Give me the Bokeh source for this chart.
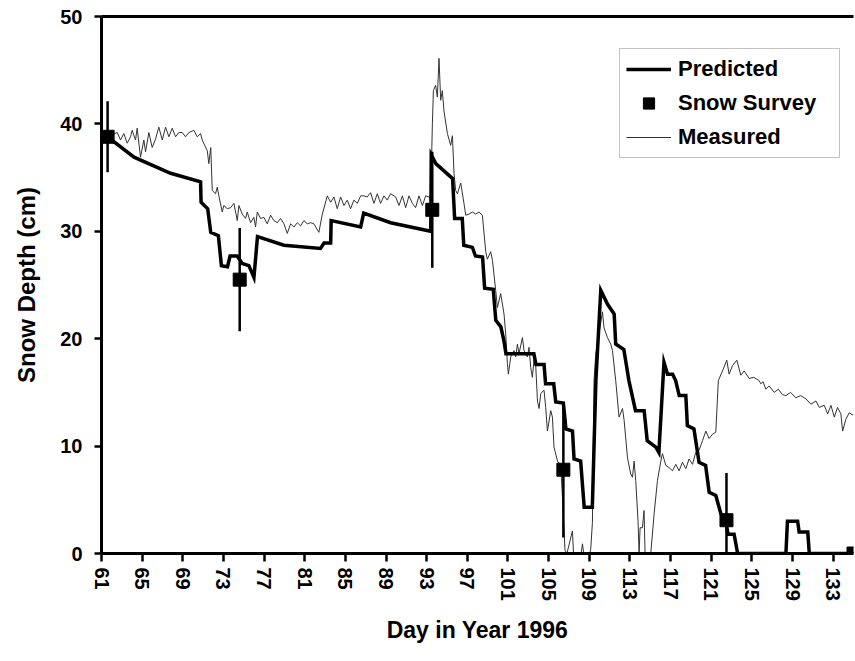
import math
from bokeh.plotting import figure
from bokeh.models import FixedTicker, LinearAxis, Range1d, Legend, LegendItem, ColumnDataSource
from bokeh.embed import file_html
from bokeh.resources import INLINE

# ---------------- data ----------------
x_ticks = list(range(61, 134, 4))
y_ticks = [0, 10, 20, 30, 40, 50]

pred_day = [61.6, 64.2, 67.8, 70.75, 70.8, 71.45, 71.75, 72.5, 72.8, 73.4, 73.65, 74.35,
            74.85, 75.5, 76.0, 76.35, 78.95, 82.55, 82.9, 83.55, 83.6, 86.5, 86.8, 89.45,
            93.4, 93.45, 93.9, 95.55, 95.75, 96.5, 96.65, 97.5, 97.8, 98.5, 98.7, 99.55,
            99.8, 100.3, 100.6, 100.8, 103.55, 103.75, 104.55, 104.7, 105.5, 105.7, 106.45,
            106.7, 107.35, 107.5, 108.15, 108.5, 109.3, 109.65, 110.13, 110.8, 111.45, 111.6,
            112.4, 112.9, 113.55, 114.4, 114.7, 115.55, 115.85, 116.35, 116.7, 117.2, 117.5,
            117.85, 118.5, 118.65, 119.3, 119.8, 120.45, 120.8, 121.45, 121.95, 122.45, 122.65,
            123.25, 123.6, 128.35, 128.5, 129.5, 129.65, 130.5, 130.65, 135.0]
pred_depth = [38.8, 36.9, 35.4, 34.6, 32.7, 32.1, 29.9, 29.6, 26.8, 26.7, 27.7, 27.7,
              27.0, 26.8, 25.7, 29.5, 28.7, 28.4, 28.9, 28.9, 31.0, 30.4, 31.7, 30.8,
              30.0, 37.1, 36.3, 34.9, 31.2, 31.2, 28.7, 28.5, 27.7, 27.6, 24.7, 24.6,
              21.7, 21.1, 19.8, 18.6, 18.6, 17.6, 17.6, 15.8, 15.8, 14.1, 14.0,
              11.6, 11.4, 8.8, 8.6, 4.3, 4.3, 16.1, 24.5, 23.2, 22.3, 19.5,
              19.0, 16.1, 13.3, 13.3, 10.5, 9.9, 9.4, 17.8, 16.7, 16.7, 16.1,
              14.7, 14.7, 11.9, 11.6, 8.5, 8.2, 5.7, 5.4, 3.7, 3.0, 1.8,
              1.8, 0.0, 0.0, 3.0, 3.0, 2.0, 2.0, 0.0, 0.0]

meas_day = [61.6, 62.55, 62.87, 63.2, 63.53, 63.86, 64.02, 64.35, 64.51, 64.84, 65.17, 65.33,
            65.66, 65.99, 66.32, 66.64, 66.98, 67.3, 67.63, 67.96, 68.29, 68.61, 68.95, 69.27,
            69.6, 70.09, 70.42, 70.75, 70.91, 71.41, 71.56, 71.75, 71.9, 72.22, 72.39, 72.55,
            72.88, 73.04, 73.38, 73.7, 74.03, 74.36, 74.52, 74.85, 75.18, 75.34, 75.67, 75.99,
            76.16, 76.33, 76.65, 76.98, 77.31, 77.64, 77.96, 78.3, 78.62, 78.95, 79.28, 79.61,
            79.93, 80.27, 80.59, 80.92, 81.25, 81.58, 81.9, 82.39, 82.73, 83.22, 83.55, 83.87,
            84.2, 84.53, 84.86, 85.19, 85.51, 85.84, 86.17, 86.5, 86.82, 87.15, 87.48, 87.81,
            88.14, 88.46, 88.79, 89.12, 89.45, 89.95, 90.27, 90.61, 90.93, 91.26, 91.59, 91.91,
            92.24, 92.58, 92.9, 93.22, 93.39, 93.56, 93.66, 93.88, 94.05, 94.21, 94.38, 94.54,
            94.7, 95.04, 95.36, 95.53, 95.69, 95.85, 96.02, 96.35, 96.67, 96.84, 97.16, 97.5,
            97.82, 98.15, 98.48, 98.81, 98.97, 99.3, 99.47, 99.79, 99.96, 100.28, 100.61, 100.78,
            100.94, 101.04, 101.27, 101.59, 101.76, 101.93, 102.08, 102.42, 102.58, 102.91, 103.07, 103.24,
            103.4, 103.56, 103.73, 103.9, 104.06, 104.23, 104.55, 104.71, 104.88, 105.21, 105.37, 105.53,
            105.87, 106.19, 106.45, 106.61, 106.8, 107.34, 107.45, 108.2, 108.33, 108.45, 109.05, 109.14,
            109.31, 109.47, 109.64, 110.3, 110.45, 110.79, 111.11, 111.28, 111.6, 111.93, 112.27, 112.43,
            112.76, 113.08, 113.25, 113.41, 113.57, 113.8, 113.9, 114.0, 114.23, 114.39, 114.49, 115.05,
            115.38, 115.71, 116.04, 116.2, 116.53, 116.85, 117.19, 117.51, 117.84, 118.17, 118.5, 118.82,
            119.16, 119.47, 119.8, 120.14, 120.47, 120.79, 121.12, 121.45, 121.7, 122.11, 122.53, 122.76,
            123.1, 123.52, 123.91, 124.24, 124.73, 125.19, 125.71, 125.88, 126.1, 126.37, 126.7, 127.19,
            127.6, 128.0, 128.35, 128.8, 129.33, 129.8, 130.32, 130.81, 131.31, 131.63, 132.12, 132.46,
            132.78, 133.11, 133.43, 133.76, 133.93, 134.25, 134.58, 134.91, 135.0]
meas_depth = [38.8, 39.2, 38.5, 39.1, 38.2, 38.8, 39.4, 38.5, 39.6, 36.9, 38.5, 37.4,
              39.2, 37.8, 38.6, 39.7, 38.5, 39.7, 38.8, 39.6, 38.8, 39.2, 39.2, 38.8,
              39.2, 39.4, 38.8, 39.1, 38.5, 37.5, 36.3, 37.8, 33.8, 33.5, 34.1, 33.3,
              31.8, 32.4, 32.1, 32.2, 32.6, 31.0, 32.4, 31.6, 31.2, 31.8, 30.8, 31.3,
              30.4, 31.8, 31.2, 31.3, 30.7, 31.5, 31.0, 30.8, 31.2, 30.7, 29.8, 30.7,
              30.4, 30.8, 30.5, 31.0, 30.7, 30.8, 30.7, 29.9, 31.6, 33.3, 32.7, 33.2,
              32.1, 33.2, 32.4, 32.9, 32.1, 32.9, 32.6, 33.3, 33.3, 33.2, 33.6, 32.6,
              33.5, 32.6, 33.3, 32.9, 33.5, 33.2, 32.4, 33.3, 32.2, 33.3, 32.6, 32.2,
              33.3, 32.4, 33.3, 33.2, 32.9, 40.0, 43.1, 43.6, 42.5, 46.1, 42.2, 43.1,
              41.2, 39.1, 38.0, 38.9, 35.4, 33.8, 33.5, 34.5, 32.6, 31.5, 31.6, 31.8,
              31.6, 31.8, 31.5, 28.1, 27.4, 28.1, 27.3, 24.5, 22.9, 24.2, 22.3, 20.4,
              17.7, 16.7, 18.3, 18.9, 18.3, 19.5, 18.6, 20.1, 18.9, 18.3, 19.2, 17.3,
              16.4, 18.0, 17.5, 14.2, 13.5, 14.9, 15.2, 13.6, 11.4, 13.3, 12.7, 9.9,
              8.6, 8.2, 3.7, 0.3, 0.0, 2.1, 0.0, 0.0, 0.9, 0.0, 0.0, 0.4,
              2.9, 16.1, 18.6, 22.5, 21.0, 20.1, 19.5, 18.9, 16.1, 12.7, 13.5, 12.4,
              8.9, 7.4, 7.1, 8.6, 6.8, 3.0, 0.0, 2.4, 2.4, 4.0, 0.0, 0.0,
              3.7, 6.8, 8.6, 9.3, 8.2, 8.0, 7.7, 8.3, 7.7, 8.5, 7.9, 8.8,
              8.3, 9.4, 9.6, 10.5, 11.4, 10.7, 11.1, 11.3, 16.1, 17.0, 18.0, 16.7,
              17.5, 18.0, 16.6, 17.0, 16.3, 16.4, 16.1, 15.8, 16.0, 15.3, 15.6, 15.0,
              15.3, 14.8, 14.7, 15.0, 14.5, 14.7, 14.4, 13.9, 14.2, 13.6, 13.8, 13.0,
              13.8, 12.7, 13.6, 13.0, 11.4, 12.5, 13.1, 12.9, 13.0]

survey_day = [61.6, 74.6, 93.55, 106.45, 122.5, 135.0]
survey_depth = [38.8, 25.5, 32.0, 7.8, 3.1, 0.0]
survey_err = [3.3, 4.8, 5.4, 6.3, 4.4, 0.0]

# ---------------- figure ----------------
FONT = "Liberation Sans"

p = figure(width=855, height=661, x_range=Range1d(61, 135), y_range=Range1d(0, 50),
           output_backend="svg", toolbar_location=None,
           min_border_left=101, min_border_right=2, min_border_top=16, min_border_bottom=108)
p.grid.visible = False
p.outline_line_color = None
p.background_fill_color = "white"
p.border_fill_color = "white"

# measured (thin)
r_meas = p.line(meas_day, meas_depth, line_color="#333333", line_width=1)
# predicted (thick)
r_pred = p.line(pred_day, pred_depth, line_color="black", line_width=3.5, line_join="miter")
# survey error bars
lo = [max(0.0, d - e) for d, e in zip(survey_depth, survey_err)]
hi = [d + e for d, e in zip(survey_depth, survey_err)]
src = ColumnDataSource(dict(x=survey_day, y=survey_depth, lo=lo, hi=hi))
p.segment(x0="x", y0="lo", x1="x", y1="hi", source=src, line_color="black", line_width=2.5)
r_surv = p.scatter(x="x", y="y", source=src, marker="square", size=13,
                   fill_color="black", line_color="black")

# axes
for ax in (p.xaxis[0], p.yaxis[0]):
    ax.axis_line_width = 3
    ax.axis_line_color = "black"
    ax.major_tick_line_width = 2.5
    ax.major_tick_in = 0
    ax.major_tick_out = 8
    ax.minor_tick_line_color = None
    ax.major_label_text_font = FONT
    ax.major_label_text_font_style = "bold"
    ax.major_label_text_font_size = "20px"
    ax.major_label_text_color = "black"
    ax.axis_label_text_font = FONT
    ax.axis_label_text_font_style = "bold"
    ax.axis_label_text_font_size = "23px"
    ax.axis_label_text_color = "black"

p.xaxis.ticker = FixedTicker(ticks=x_ticks)
p.xaxis.major_label_orientation = "vertical"
p.xaxis.major_label_standoff = 6
p.xaxis.axis_label = "Day in Year 1996"
p.xaxis.axis_label_standoff = 13

p.yaxis.ticker = FixedTicker(ticks=y_ticks)
p.yaxis.major_tick_out = 7
p.yaxis.major_label_standoff = 12
p.yaxis.axis_label = "Snow Depth (cm)"
p.yaxis.axis_label_text_font_size = "24px"
p.yaxis.axis_label_standoff = 17

top = LinearAxis(ticker=FixedTicker(ticks=[]), axis_line_width=3, axis_line_color="black",
                 major_tick_out=0, major_tick_in=0, minor_tick_out=0, minor_tick_in=0,
                 major_label_text_font_size="0px", major_label_standoff=0)
p.add_layout(top, "above")

legend = Legend(items=[LegendItem(label="Predicted", renderers=[r_pred]),
                       LegendItem(label="Snow Survey", renderers=[r_surv]),
                       LegendItem(label="Measured", renderers=[r_meas])],
                location=(518, 395))
legend.label_text_font = FONT
legend.label_text_font_style = "bold"
legend.label_text_font_size = "22px"
legend.label_text_color = "black"
legend.glyph_width = 45
legend.glyph_height = 28
legend.label_height = 28
legend.label_width = 155
legend.label_standoff = 7
legend.spacing = 6
legend.padding = 6
legend.margin = 0
legend.border_line_color = "#888888"
legend.border_line_width = 1.5
legend.background_fill_color = "white"
legend.background_fill_alpha = 1.0
p.add_layout(legend)

open("out.html", "w").write(file_html(p, INLINE))
